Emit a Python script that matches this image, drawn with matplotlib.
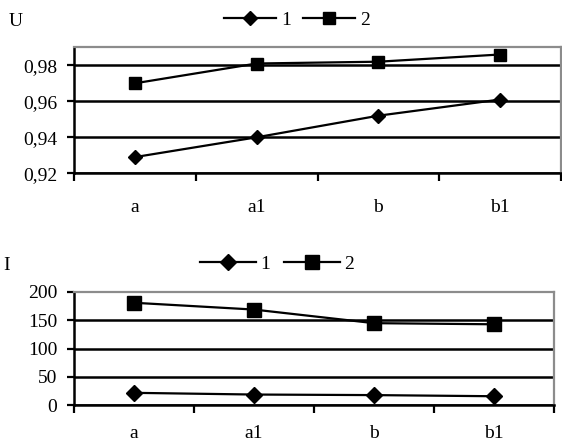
import matplotlib
matplotlib.use("Agg")
import matplotlib.pyplot as plt
import numpy as np

plt.rcParams["font.family"] = ["Liberation Serif", "DejaVu Serif"]

# ---------------------------------------------------------------------------
# Data
# ---------------------------------------------------------------------------
categories = ["a", "a1", "b", "b1"]
series_names = ["1", "2"]

u_1 = [0.929, 0.940, 0.952, 0.961]
u_2 = [0.970, 0.981, 0.982, 0.986]
u_ticks = [0.92, 0.94, 0.96, 0.98]
u_ticklabels = ["0,92", "0,94", "0,96", "0,98"]

i_1 = [22, 19, 18, 16]
i_2 = [181, 169, 145, 143]
i_ticks = [0, 50, 100, 150, 200]
i_ticklabels = ["0", "50", "100", "150", "200"]

# ---------------------------------------------------------------------------
# Figure
# ---------------------------------------------------------------------------
W, H = 562, 446
fig = plt.figure(figsize=(W / 100, H / 100), dpi=100)


def px_axes(left, top, right, bottom):
    return fig.add_axes([left / W, 1 - bottom / H, (right - left) / W, (bottom - top) / H])


def style_axes(ax, ymin, ymax, ticks, ticklabels, hide_top_grid, xpad):
    x = np.arange(len(categories))
    ax.set_xlim(-0.5, len(categories) - 0.5)
    ax.set_ylim(ymin, ymax)
    ax.set_yticks(ticks)
    ax.set_yticklabels(ticklabels)
    ax.set_xticks(x)
    ax.set_xticklabels(categories)
    ax.set_xticks(np.arange(len(categories) + 1) - 0.5, minor=True)
    ax.tick_params(axis="x", which="major", length=0, pad=xpad, labelsize=14)
    ax.tick_params(axis="x", which="minor", direction="out", length=6, width=1.6)
    ax.tick_params(axis="y", direction="out", length=5, width=1.6, pad=7, labelsize=14)
    ax.yaxis.grid(True, color="black", linewidth=1.8)
    ax.set_axisbelow(True)
    if hide_top_grid:
        ax.yaxis.get_gridlines()[-1].set_visible(False)
    for side in ("left", "bottom"):
        ax.spines[side].set_color("black")
        ax.spines[side].set_linewidth(1.8)
    for side in ("top", "right"):
        ax.spines[side].set_color("#8c8c8c")
        ax.spines[side].set_linewidth(1.6)


def draw(ax, s1, s2, ms_d, ms_s):
    x = np.arange(len(categories))
    h1, = ax.plot(x, s1, color="black", lw=1.6, marker="D", ms=ms_d,
                  label=series_names[0], clip_on=False, zorder=3)
    h2, = ax.plot(x, s2, color="black", lw=1.6, marker="s", ms=ms_s,
                  label=series_names[1], clip_on=False, zorder=3)
    return [h1, h2]


# top chart: U
ax1 = px_axes(74, 47.3, 561, 173.3)
style_axes(ax1, 0.92, 0.99, u_ticks, u_ticklabels, False, 18.5)
hs = draw(ax1, u_1, u_2, 7.5, 8.5)
fig.legend(hs, series_names, loc="center", bbox_to_anchor=(297 / W, 1 - 20 / H),
           ncol=2, frameon=False, fontsize=14, handlelength=2.7,
           handletextpad=0.25, columnspacing=0.6, numpoints=1)
fig.text(16 / W, 1 - 22 / H, "U", fontsize=14, ha="center", va="center")

# bottom chart: I
ax2 = px_axes(74, 292, 554, 405.3)
style_axes(ax2, 0, 200, i_ticks, i_ticklabels, True, 14)
hs = draw(ax2, i_1, i_2, 8, 10.5)
fig.legend(hs, series_names, loc="center", bbox_to_anchor=(277 / W, 1 - 264 / H),
           ncol=2, frameon=False, fontsize=14, handlelength=2.9,
           handletextpad=0.2, columnspacing=0.7, numpoints=1)
fig.text(7 / W, 1 - 266 / H, "I", fontsize=14, ha="center", va="center")

fig.savefig("out.png", dpi=100)
